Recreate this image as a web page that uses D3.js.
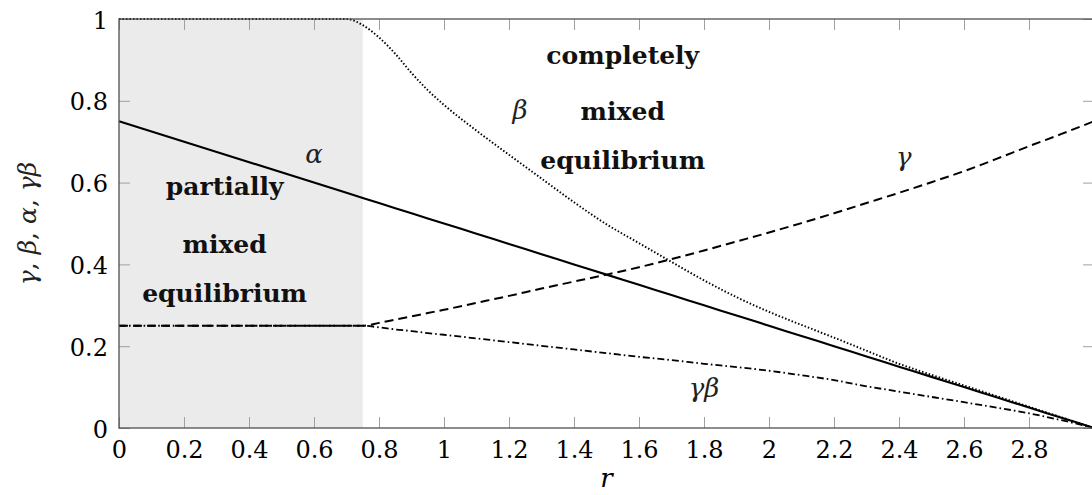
<!DOCTYPE html>
<html>
<head>
<meta charset="utf-8">
<script src="https://cdn.jsdelivr.net/npm/d3@7"></script>
<style>
  html, body { margin: 0; padding: 0; background: #fff; }
  svg { display: block; }
</style>
</head>
<body>
<svg id="chart" width="1092" height="495"></svg>
<script>
// ---- data ----
const rValues = [0, 0.7, 0.75, 0.8, 0.85, 0.9, 0.95, 1.0, 1.1, 1.2, 1.3, 1.4, 1.5, 1.6, 1.7, 1.8, 1.9, 2.0, 2.1, 2.2, 2.3, 2.4, 2.5, 2.6, 2.7, 2.8, 2.9, 3.0];
const alphaValues = [0.75, 0.575, 0.5625, 0.55, 0.5375, 0.525, 0.5125, 0.5, 0.475, 0.45, 0.425, 0.4, 0.375, 0.35, 0.325, 0.3, 0.275, 0.25, 0.225, 0.2, 0.175, 0.15, 0.125, 0.1, 0.075, 0.05, 0.025, 0];
const gammaValues = [0.25, 0.25, 0.25, 0.257, 0.265, 0.273, 0.281, 0.289, 0.306, 0.323, 0.341, 0.358, 0.375, 0.393, 0.413, 0.434, 0.456, 0.478, 0.501, 0.525, 0.55, 0.575, 0.601, 0.628, 0.658, 0.689, 0.719, 0.75];
const betaValues = [1, 1, 0.985, 0.955, 0.915, 0.868, 0.826, 0.79, 0.727, 0.668, 0.61, 0.552, 0.498, 0.452, 0.406, 0.361, 0.32, 0.284, 0.252, 0.221, 0.189, 0.157, 0.13, 0.104, 0.078, 0.052, 0.026, 0];
const gammaBetaValues = [0.25, 0.25, 0.25, 0.246, 0.241, 0.237, 0.232, 0.228, 0.219, 0.21, 0.201, 0.192, 0.183, 0.174, 0.166, 0.157, 0.149, 0.14, 0.129, 0.117, 0.102, 0.089, 0.076, 0.063, 0.05, 0.036, 0.019, 0];
const shadedRange = [0, 0.75];
const xTickValues = [0, 0.2, 0.4, 0.6, 0.8, 1, 1.2, 1.4, 1.6, 1.8, 2, 2.2, 2.4, 2.6, 2.8, 3];
const xTickLabels = ["0", "0.2", "0.4", "0.6", "0.8", "1", "1.2", "1.4", "1.6", "1.8", "2", "2.2", "2.4", "2.6", "2.8", ""];
const yTickValues = [0, 0.2, 0.4, 0.6, 0.8, 1];
const yTickLabels = ["0", "0.2", "0.4", "0.6", "0.8", "1"];
const leftRegionLabel = ["partially", "mixed", "equilibrium"];
const rightRegionLabel = ["completely", "mixed", "equilibrium"];

// ---- layout ----
const svg = d3.select("#chart");
const x = d3.scaleLinear().domain([0, 3]).range([119, 1094]);
const y = d3.scaleLinear().domain([0, 1]).range([428, 19]);
const serif = "DejaVu Serif";
const tickSize = 24;

function textWidth(fam, size, str, extra) {
  const t = svg.append("text").attr("font-family", fam).attr("font-size", size).text(str);
  if (extra) extra(t);
  const w = t.node().getComputedTextLength();
  t.remove();
  return w;
}

// shaded region
svg.append("rect")
  .attr("x", x(shadedRange[0])).attr("y", y(1))
  .attr("width", x(shadedRange[1]) - x(shadedRange[0]))
  .attr("height", y(0) - y(1))
  .attr("fill", "#ebebeb");

// axes (inside ticks on all four sides)
const tickLen = 11;
function styleAxis(g, withText) {
  g.select(".domain").remove();
  g.selectAll(".tick line").attr("stroke", "#a0a0a0").attr("stroke-width", 1);
  g.attr("font-family", serif).attr("font-size", tickSize);
  g.selectAll(".tick text").attr("fill", "#000");
  if (!withText) g.selectAll(".tick text").remove();
}
const xLabel = d => xTickLabels[xTickValues.indexOf(d)];
const yLabel = d => yTickLabels[yTickValues.indexOf(d)];

svg.append("g").attr("transform", `translate(0,${y(0)})`)
  .call(d3.axisBottom(x).tickValues(xTickValues).tickFormat(xLabel).tickSize(-tickLen).tickPadding(0))
  .call(g => styleAxis(g, true))
  .call(g => g.selectAll(".tick text").attr("dy", null).attr("y", 30));
svg.append("g").attr("transform", `translate(0,${y(1)})`)
  .call(d3.axisTop(x).tickValues(xTickValues).tickSize(-tickLen))
  .call(g => styleAxis(g, false));
svg.append("g").attr("transform", `translate(${x(0)},0)`)
  .call(d3.axisLeft(y).tickValues(yTickValues).tickFormat(yLabel).tickSize(-tickLen).tickPadding(11))
  .call(g => styleAxis(g, true))
  .call(g => g.selectAll(".tick text").attr("dy", null).attr("y", 9));
svg.append("g").attr("transform", `translate(${x(3)},0)`)
  .call(d3.axisRight(y).tickValues(yTickValues).tickSize(-tickLen))
  .call(g => styleAxis(g, false));

// curves
const rows = rValues.map((r, i) => ({ r, a: alphaValues[i], g: gammaValues[i], b: betaValues[i], gb: gammaBetaValues[i] }));
const lineFor = key => d3.line().x(d => x(d.r)).y(d => y(d[key])).curve(d3.curveMonotoneX);

svg.append("path").datum(rows).attr("d", lineFor("gb"))
  .attr("fill", "none").attr("stroke", "#000").attr("stroke-width", 1.8)
  .attr("stroke-dasharray", "7,3,1.6,3");
svg.append("path").datum(rows).attr("d", lineFor("g"))
  .attr("fill", "none").attr("stroke", "#000").attr("stroke-width", 2)
  .attr("stroke-dasharray", "9,5");
svg.append("path").datum(rows).attr("d", lineFor("b"))
  .attr("fill", "none").attr("stroke", "#000").attr("stroke-width", 1.9)
  .attr("stroke-dasharray", "1.5,2");
svg.append("path").datum(rows).attr("d", lineFor("a"))
  .attr("fill", "none").attr("stroke", "#000").attr("stroke-width", 2.1);

// frame
svg.append("rect")
  .attr("x", x(0)).attr("y", y(1))
  .attr("width", x(3) - x(0)).attr("height", y(0) - y(1))
  .attr("fill", "none").attr("stroke", "#505050").attr("stroke-width", 1.3);

// region labels (bold)
const boldSize = 20 * 165 / textWidth(serif, 20, "equilibrium", t => t.attr("font-weight", "bold"));

function regionLabel(lines, cx, baselines) {
  lines.forEach((t, i) => {
    svg.append("text")
      .attr("x", x(cx)).attr("y", y(baselines[i]))
      .attr("text-anchor", "middle")
      .attr("font-family", serif).attr("font-weight", "bold")
      .attr("font-size", boldSize).attr("fill", "#111")
      .text(t);
  });
}
regionLabel(leftRegionLabel, 0.325, [0.570, 0.428, 0.309]);
regionLabel(rightRegionLabel, 1.55, [0.891, 0.753, 0.633]);

// curve labels (italic greek)
function greek(t, cx, by) {
  svg.append("text")
    .attr("x", x(cx)).attr("y", y(by))
    .attr("text-anchor", "middle")
    .attr("font-family", serif).attr("font-style", "italic")
    .attr("font-size", 26).attr("fill", "#222")
    .text(t);
}
greek("α", 0.60, 0.648);
greek("β", 1.234, 0.755);
greek("γ", 2.415, 0.64);
greek("γβ", 1.80, 0.077);

// axis titles
svg.append("text")
  .attr("x", x(1.5)).attr("y", 487)
  .attr("text-anchor", "middle")
  .attr("font-family", serif).attr("font-style", "italic")
  .attr("font-size", 26).attr("fill", "#000")
  .text("r");

const yt = svg.append("text")
  .attr("transform", `translate(36,${(y(0) + y(1)) / 2}) rotate(-90)`)
  .attr("text-anchor", "middle")
  .attr("font-family", serif).attr("font-size", 25).attr("fill", "#222");
[["γ", true], [", ", false], ["β", true], [", ", false], ["α", true], [", ", false], ["γβ", true]]
  .forEach(([t, it]) => yt.append("tspan").attr("font-style", it ? "italic" : "normal").text(t));
</script>
</body>
</html>
